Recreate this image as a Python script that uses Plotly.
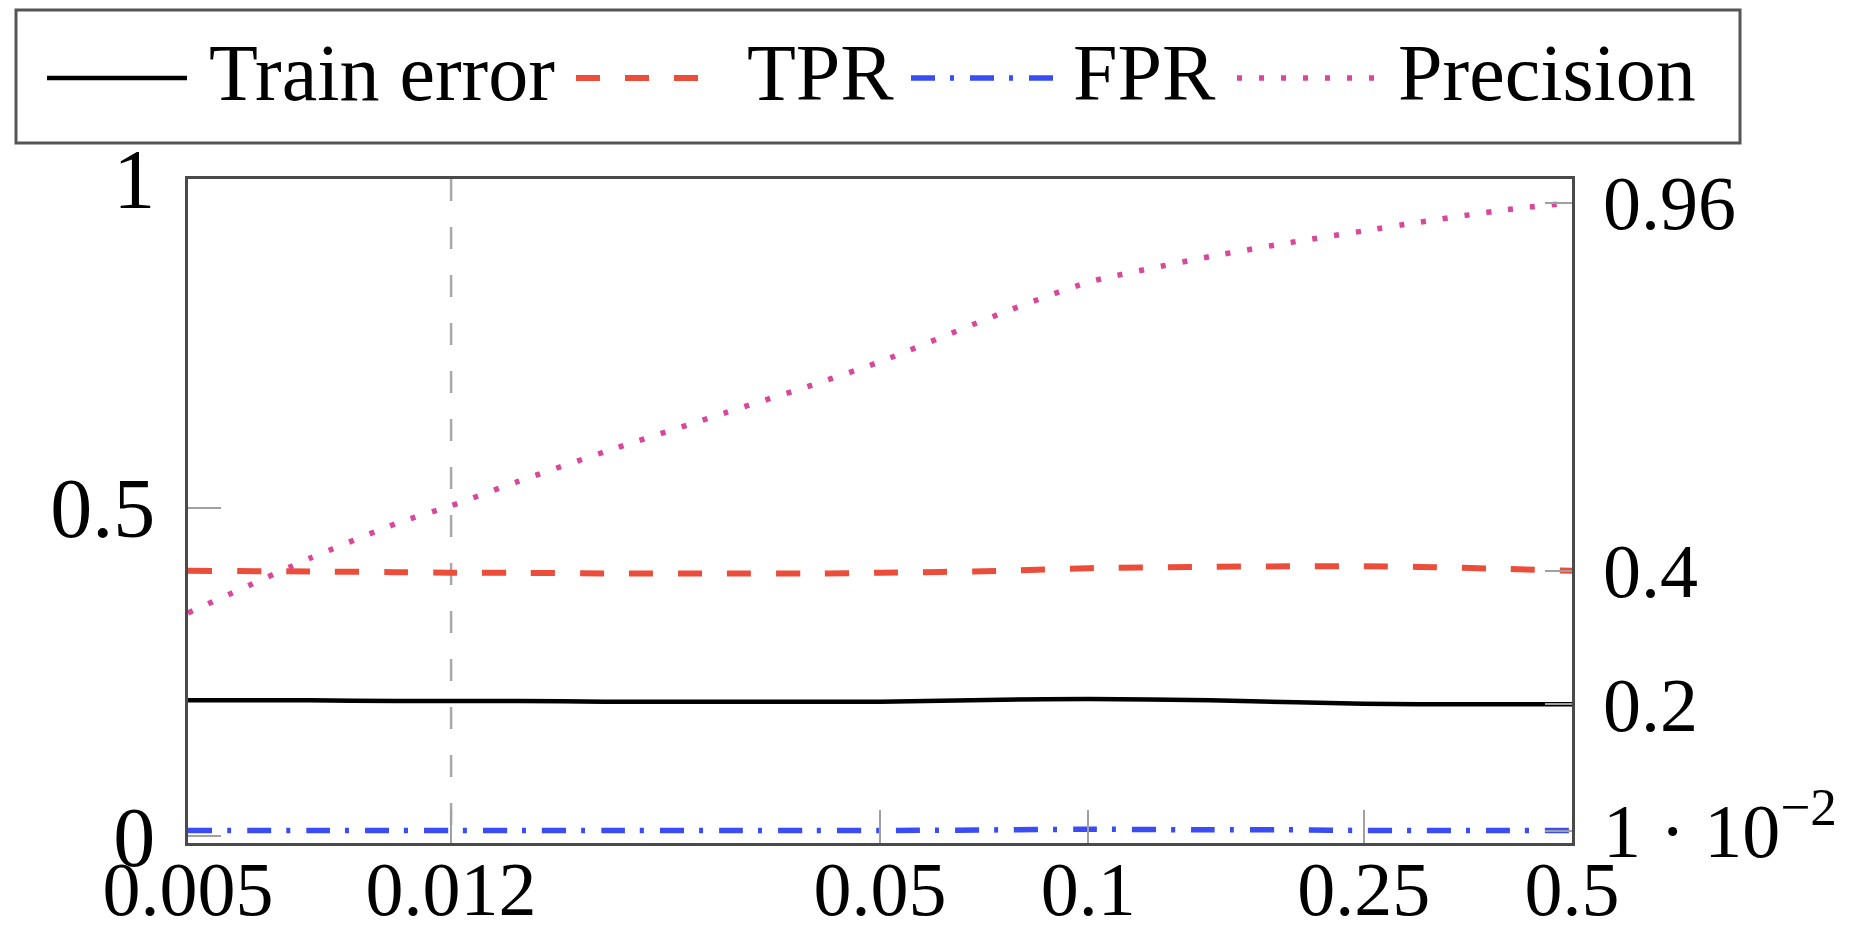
import plotly.graph_objects as go

# ---------------- data ----------------
alpha = [0.005, 0.0075, 0.01, 0.012, 0.015, 0.02, 0.03, 0.04, 0.05,
         0.075, 0.1, 0.15, 0.2, 0.25, 0.3, 0.4, 0.5]
train_error = [0.207, 0.207, 0.206, 0.206, 0.206, 0.205, 0.205, 0.205, 0.205,
               0.208, 0.209, 0.207, 0.204, 0.202, 0.201, 0.201, 0.201]
tpr = [0.404, 0.403, 0.402, 0.401, 0.401, 0.400, 0.400, 0.400, 0.401,
       0.404, 0.408, 0.410, 0.411, 0.411, 0.410, 0.407, 0.404]
fpr = [0.009, 0.009, 0.009, 0.009, 0.009, 0.009, 0.009, 0.009, 0.009,
       0.010, 0.011, 0.010, 0.010, 0.009, 0.009, 0.009, 0.009]
precision = [0.340, 0.423, 0.476, 0.503, 0.540, 0.585, 0.645, 0.687, 0.722,
             0.796, 0.843, 0.882, 0.905, 0.921, 0.934, 0.953, 0.964]

selected_alpha = 0.012
x_tick_vals = [0.005, 0.012, 0.05, 0.1, 0.25, 0.5]
x_tick_text = ["0.005", "0.012", "0.05", "0.1", "0.25", "0.5"]
y_tick_vals = [0, 0.5, 1]
y_tick_text = ["0", "0.5", "1"]
right_tick_text = ["0.96", "0.4", "0.2", "1 · 10<sup>−2</sup>"]

series_names = ["Train error", "TPR", "FPR", "Precision"]

# ---------------- layout geometry (screen px; page body has an 8px margin) ----------------
OFF = 8
W, H = 1856 - OFF, 937 - OFF
L, R, T, B = 188 - OFF, 1572 - OFF, 179 - OFF, 843 - OFF
SERIF = "Liberation Serif, Times New Roman, serif"

styles = [
    dict(color="#000000", width=4.5, dash="solid"),
    dict(color="#EC4C3A", width=6, dash="24px,25px"),
    dict(color="#3A4DF5", width=5.5, dash="24px,15px,4px,16px"),
    dict(color="#D9479A", width=5.5, dash="5px,17px"),
]
series = [train_error, tpr, fpr, precision]


def px_x(p):
    return (p - OFF - L) / (R - L)


def px_y(p):
    return (B - (p - OFF)) / (B - T)


fig = go.Figure()
for name, ys, st in zip(series_names, series, styles):
    fig.add_trace(go.Scatter(
        x=alpha, y=ys, name=name, mode="lines", showlegend=False,
        line=dict(color=st["color"], width=st["width"], dash=st["dash"],
                  shape="spline", smoothing=0.6),
    ))

# invisible trace for the right axis
right_vals = [precision[-1], tpr[-1], train_error[-1], fpr[-1]]
fig.add_trace(go.Scatter(x=[alpha[-1]], y=[right_vals[0]], yaxis="y2",
                         mode="markers", marker=dict(opacity=0),
                         showlegend=False, hoverinfo="skip"))

shapes = [
    dict(type="line", xref="x", yref="paper", x0=selected_alpha, x1=selected_alpha,
         y0=1, y1=0, line=dict(color="#A8A8A8", width=2.5, dash="22px,26px"),
         layer="below"),
    # legend box
    dict(type="rect", xref="paper", yref="paper",
         x0=px_x(16), x1=px_x(1740), y0=px_y(143), y1=px_y(10),
         line=dict(color="#555555", width=3), fillcolor="white"),
]
annotations = []
sample_x = [(47, 187), (576, 710), (911, 1053), (1237, 1379)]
text_x = [207, 745, 1071, 1396]
for name, st, (sx0, sx1), tx in zip(series_names, styles, sample_x, text_x):
    shapes.append(dict(type="line", xref="paper", yref="paper",
                       x0=px_x(sx0), x1=px_x(sx1), y0=px_y(78), y1=px_y(78),
                       line=dict(color=st["color"], width=st["width"], dash=st["dash"])))
    annotations.append(dict(text=name, xref="paper", yref="paper",
                            x=px_x(tx), y=px_y(73), xanchor="left", yanchor="middle",
                            showarrow=False,
                            font=dict(family=SERIF, size=80, color="black")))

axis_common = dict(showgrid=False, zeroline=False, showline=True, mirror=True,
                   linecolor="#4a4a4a", linewidth=3, ticks="inside",
                   tickcolor="#A0A0A0", tickwidth=1.5)

fig.update_layout(
    width=W, height=H,
    margin=dict(l=L, r=W - R, t=T, b=H - B, autoexpand=False),
    paper_bgcolor="white", plot_bgcolor="white",
    showlegend=False,
    xaxis=dict(type="log", range=[-2.30103, -0.30103],
               tickvals=x_tick_vals, ticktext=x_tick_text, ticklen=33,
               ticklabelstandoff=-22,
               tickfont=dict(family=SERIF, size=76, color="black"),
               **axis_common),
    yaxis=dict(range=[-0.01, 1.0], tickvals=y_tick_vals, ticktext=y_tick_text,
               ticklen=33, ticklabelstandoff=13,
               tickfont=dict(family=SERIF, size=84, color="black"),
               **axis_common),
    yaxis2=dict(range=[-0.01, 1.0], overlaying="y", side="right",
                tickvals=right_vals, ticktext=right_tick_text, ticklen=27,
                ticklabelstandoff=30, showgrid=False, zeroline=False,
                showline=False, ticks="inside", tickcolor="#A0A0A0", tickwidth=1.5,
                tickfont=dict(family=SERIF, size=76, color="black")),
    shapes=shapes,
    annotations=annotations,
)

fig.write_html("out.html")
